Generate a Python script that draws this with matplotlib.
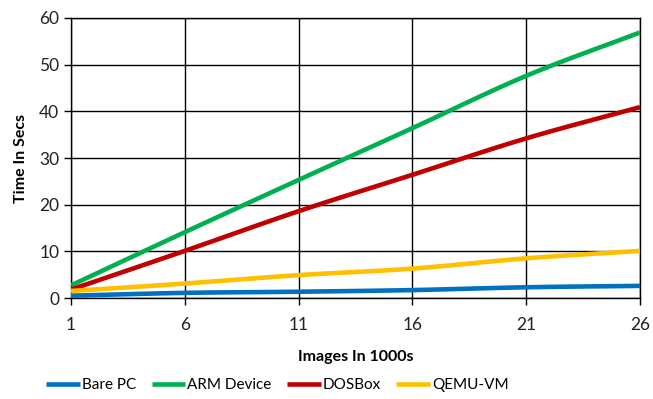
import numpy as np
import matplotlib
matplotlib.use("Agg")
import matplotlib.pyplot as plt

plt.rcParams['font.family'] = ['Lato', 'DejaVu Sans']

images = [1, 6, 11, 16, 21, 26]
bare_pc = [0.5, 1.1, 1.35, 1.7, 2.3, 2.6]
arm_device = [2.7, 14.1, 25.3, 36.4, 47.6, 56.9]
dosbox = [1.8, 10.1, 18.6, 26.4, 34.2, 40.9]
qemu_vm = [1.5, 3.1, 4.9, 6.3, 8.5, 10.1]

series = [("Bare PC", bare_pc, "#0070C0"),
          ("ARM Device", arm_device, "#00B050"),
          ("DOSBox", dosbox, "#C00000"),
          ("QEMU-VM", qemu_vm, "#FFC000")]


def smooth(xs, ys, n=20):
    # Catmull-Rom style smoothing, like the spreadsheet's smoothed lines
    xs = np.asarray(xs, float)
    ys = np.asarray(ys, float)
    px = np.concatenate([[2 * xs[0] - xs[1]], xs, [2 * xs[-1] - xs[-2]]])
    py = np.concatenate([[2 * ys[0] - ys[1]], ys, [2 * ys[-1] - ys[-2]]])
    out_x, out_y = [], []
    t = np.linspace(0, 1, n, endpoint=False)
    for i in range(1, len(px) - 2):
        for p, o in ((px, out_x), (py, out_y)):
            p0, p1, p2, p3 = p[i - 1], p[i], p[i + 1], p[i + 2]
            o.extend(0.5 * (2 * p1 + (-p0 + p2) * t
                            + (2 * p0 - 5 * p1 + 4 * p2 - p3) * t ** 2
                            + (-p0 + 3 * p1 - 3 * p2 + p3) * t ** 3))
    out_x.append(xs[-1])
    out_y.append(ys[-1])
    return out_x, out_y


fig = plt.figure(figsize=(6.53, 3.99), dpi=100)
ax = fig.add_axes([0.1087, 0.2531, 0.8713, 0.7018])

for name, vals, color in series:
    sx, sy = smooth(images, vals)
    ax.plot(sx, sy, color=color, lw=3.3, label=name, solid_capstyle='butt', zorder=3)

ax.set_xlim(1, 26)
ax.set_ylim(0, 60)
ax.set_xticks(images)
ax.set_yticks(range(0, 61, 10))
ax.grid(True, color='black', lw=1)
for s in ax.spines.values():
    s.set_color('black')
    s.set_linewidth(1)
ax.tick_params(axis='both', direction='out', length=5, width=1, color='black',
               labelsize=12.5, labelcolor='#222222')
ax.tick_params(axis='x', pad=9)

ax.set_xlabel("Images In 1000s", fontsize=11.5, fontweight='bold', labelpad=12)
ax.set_ylabel("Time In Secs", fontsize=11.5, fontweight='bold', labelpad=8)

fig.legend(*ax.get_legend_handles_labels(), loc='center', bbox_to_anchor=(0.425, 0.035),
           ncol=4, frameon=False, fontsize=11, handlelength=2.2,
           handletextpad=0.15, columnspacing=1.0, borderaxespad=0)

fig.savefig("out.png", dpi=100)
